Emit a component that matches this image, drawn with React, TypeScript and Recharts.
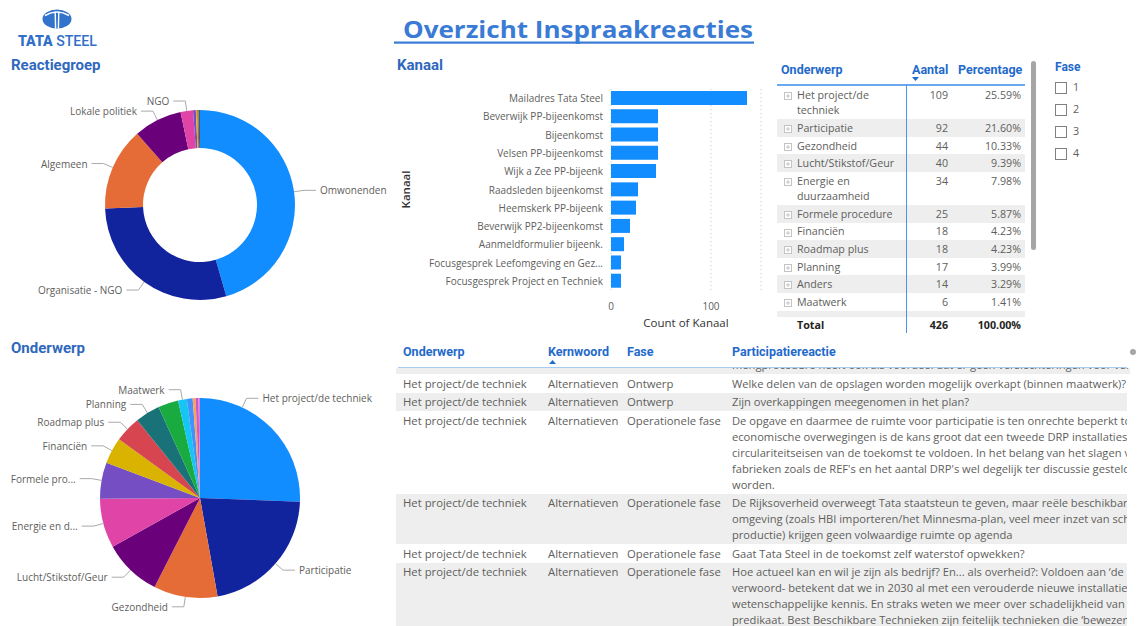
import React from 'react';
import { PieChart, Pie, Cell, BarChart, Bar, XAxis, YAxis, CartesianGrid } from 'recharts';

// ---------- DATA ----------
const reactiegroepNames = ['Omwonenden', 'Organisatie - NGO', 'Algemeen', 'Lokale politiek', 'NGO', 'Overig 1', 'Overig 2', 'Overig 3', 'Overig 4'];
const reactiegroepValues = [194, 123, 60, 35, 9, 2, 1, 1, 1];
const reactiegroepLabels = ['Omwonenden', 'Organisatie - NGO', 'Algemeen', 'Lokale politiek', 'NGO', '', '', '', ''];

const kanaalNames = [
  'Mailadres Tata Steel',
  'Beverwijk PP-bijeenkomst',
  'Bijeenkomst',
  'Velsen PP-bijeenkomst',
  'Wijk a Zee PP-bijeenk',
  'Raadsleden bijeenkomst',
  'Heemskerk PP-bijeenk',
  'Beverwijk PP2-bijeenkomst',
  'Aanmeldformulier bijeenk.',
  'Focusgesprek Leefomgeving en Gezondheid',
  'Focusgesprek Project en Techniek',
];
const kanaalValues = [136, 47, 47, 47, 45, 27, 25, 19, 13, 10, 10];
const kanaalTicks = [0, 100];

const onderwerpNames = [
  'Het project/de techniek', 'Participatie', 'Gezondheid', 'Lucht/Stikstof/Geur', 'Energie en duurzaamheid',
  'Formele procedure', 'Financiën', 'Roadmap plus', 'Planning', 'Anders', 'Maatwerk',
  'Overig 1', 'Overig 2', 'Overig 3', 'Overig 4',
];
const onderwerpValues = [109, 92, 44, 40, 34, 25, 18, 18, 17, 14, 6, 4, 2, 2, 1];
const onderwerpPieLabels = [
  'Het project/de techniek', 'Participatie', 'Gezondheid', 'Lucht/Stikstof/Geur', 'Energie en d...',
  'Formele pro...', 'Financiën', 'Roadmap plus', 'Planning', '', 'Maatwerk', '', '', '', '',
];
const visibleTableRows = 11;

const faseOptions = ['1', '2', '3', '4'];

const reactieOnderwerp = ['', 'Het project/de techniek', 'Het project/de techniek', 'Het project/de techniek', 'Het project/de techniek', 'Het project/de techniek', 'Het project/de techniek'];
const reactieKernwoord = ['', 'Alternatieven', 'Alternatieven', 'Alternatieven', 'Alternatieven', 'Alternatieven', 'Alternatieven'];
const reactieFase = ['', 'Ontwerp', 'Ontwerp', 'Operationele fase', 'Operationele fase', 'Operationele fase', 'Operationele fase'];
const reactieTekst = [
  ['mengprocedure heeft ook als voordeel dat er geen verslechteringen voor vervuiling'],
  ['Welke delen van de opslagen worden mogelijk overkapt (binnen maatwerk)?'],
  ['Zijn overkappingen meegenomen in het plan?'],
  [
    'De opgave en daarmee de ruimte voor participatie is ten onrechte beperkt tot',
    'economische overwegingen is de kans groot dat een tweede DRP installaties',
    'circulariteitseisen van de toekomst te voldoen. In het belang van het slagen van',
    "fabrieken zoals de REF's en het aantal DRP's wel degelijk ter discussie gesteld",
    'worden.',
  ],
  [
    'De Rijksoverheid overweegt Tata staatsteun te geven, maar reële beschikbare',
    'omgeving (zoals HBI importeren/het Minnesma-plan, veel meer inzet van sch',
    'productie) krijgen geen volwaardige ruimte op agenda',
  ],
  ['Gaat Tata Steel in de toekomst zelf waterstof opwekken?'],
  [
    'Hoe actueel kan en wil je zijn als bedrijf? En... als overheid?: Voldoen aan ‘de',
    'verwoord- betekent dat we in 2030 al met een verouderde nieuwe installatie',
    'wetenschappelijke kennis. En straks weten we meer over schadelijkheid van s',
    'predikaat. Best Beschikbare Technieken zijn feitelijk technieken die ‘bewezen’',
  ],
];

// ---------- STYLE ----------
const FONT = "'Open Sans', 'Segoe UI', sans-serif";
const HFONT = "Roboto, 'Open Sans', sans-serif";
const TEXT = '#605E5C';
const TITLE_BLUE = '#2F68BD';
const HEAD_BLUE = '#1F6ACB';
const GRAY_ROW = '#EEEEEE';
const PALETTE = ['#118DFF', '#12239E', '#E66C37', '#6B007B', '#E044A7', '#744EC2', '#D9B300', '#D64550', '#197278', '#1AAB40', '#15C6F4', '#4092FF', '#FFA058', '#BE5DC9', '#F472D0'];
const NO_MARGIN = { top: 0, right: 0, bottom: 0, left: 0 };

const reactiegroepData = reactiegroepNames.map((name, i) => ({ name, value: reactiegroepValues[i] }));
const kanaalData = kanaalNames.map((name, i) => ({ name, value: kanaalValues[i] }));
const onderwerpData = onderwerpNames.map((name, i) => ({ name, value: onderwerpValues[i] }));
const onderwerpTotal = onderwerpValues.reduce((a, b) => a + b, 0);

let ctx: CanvasRenderingContext2D | null = null;
function textWidth(s: string, size: number) {
  if (!ctx && typeof document !== 'undefined') ctx = document.createElement('canvas').getContext('2d');
  if (!ctx) return s.length * size * 0.55;
  ctx.font = `${size}px 'Open Sans'`;
  return ctx.measureText(s).width;
}

function makePieLabel(labels: string[], rightBound: number) {
  return (props: any) => {
    const { cx, cy, outerRadius, midAngle, startAngle, endAngle, index } = props;
    const text = labels[index];
    if (!text) return null;
    const RAD = Math.PI / 180;
    const R1 = outerRadius + 10;
    const w = textWidth(text, 10);
    let ang = midAngle;
    if (Math.cos(ang * RAD) >= 0) {
      const endX = cx + R1 * Math.cos(ang * RAD) + 16 + w;
      const needed = rightBound - w - 16 - cx;
      if (endX > rightBound && needed > 0) {
        const a = Math.acos(Math.min(1, needed / R1)) / RAD;
        ang = midAngle >= 0 ? a : -a;
        const lo = Math.min(startAngle, endAngle), hi = Math.max(startAngle, endAngle);
        ang = Math.max(lo, Math.min(hi, ang));
      }
    }
    const c = Math.cos(-ang * RAD), s = Math.sin(-ang * RAD);
    const x0 = cx + outerRadius * c, y0 = cy + outerRadius * s;
    const x1 = cx + R1 * c, y1 = cy + R1 * s;
    const right = c >= 0;
    const x2 = x1 + (right ? 12 : -12);
    return (
      <g key={`lbl-${index}`}>
        <polyline points={`${x0},${y0} ${x1},${y1} ${x2},${y1}`} fill="none" stroke="#AAAAAA" strokeWidth={1} />
        <text x={x2 + (right ? 4 : -4)} y={y1} textAnchor={right ? 'start' : 'end'} dominantBaseline="central"
          fontFamily={FONT} fontSize={10} fill={TEXT}>{text}</text>
      </g>
    );
  };
}

const truncateKanaal = (v: string) => (v.length > 34 ? v.slice(0, 32) + '...' : v);

const KanaalTick = (p: any) => (
  <text x={p.x} y={p.y} textAnchor="end" dominantBaseline="central" fontFamily={FONT} fontSize={10} fill={TEXT}>
    {truncateKanaal(String(p.payload && p.payload.value))}
  </text>
);

const Title = ({ x, y, children }: any) => (
  <div style={{ position: 'absolute', left: x, top: y, height: 18, lineHeight: '18px', fontFamily: HFONT, fontWeight: 700, fontSize: 15, color: TITLE_BLUE, whiteSpace: 'nowrap' }}>{children}</div>
);

const ExpandIcon = () => (
  <svg width={8} height={8} style={{ position: 'absolute', left: 7, top: 6 }}>
    <rect x={0.5} y={0.5} width={7} height={7} fill="#fff" stroke="#C4C4C4" />
    <line x1={2} y1={4} x2={6} y2={4} stroke="#C4C4C4" />
    <line x1={4} y1={2} x2={4} y2={6} stroke="#C4C4C4" />
  </svg>
);

export default function App() {
  const tableRows = onderwerpNames.slice(0, visibleTableRows);
  return (
    <div style={{ position: 'absolute', left: 0, top: 0, width: 1138, height: 626, background: '#fff', overflow: 'hidden', fontFamily: FONT }}>
      {/* Logo */}
      <svg width={120} height={52} style={{ position: 'absolute', left: 0, top: 0 }}>
        <ellipse cx={57} cy={19} rx={14.5} ry={9.5} fill="#3273CC" />
        <path d="M45 15.5 Q57 8.5 69 15.5" stroke="#fff" strokeWidth={1.6} fill="none" />
        <path d="M55.2 11.5 L55.6 28.5 M58.8 11.5 L58.4 28.5" stroke="#fff" strokeWidth={1.4} fill="none" />
        <text x={18} y={45.5} fontFamily={HFONT} fontSize={14.5} fill="#3070C8" textLength={79} lengthAdjust="spacingAndGlyphs">
          <tspan fontWeight={900}>TATA </tspan><tspan fontWeight={500}>STEEL</tspan>
        </text>
      </svg>

      {/* Main title */}
      <svg width={380} height={50} style={{ position: 'absolute', left: 390, top: 0 }}>
        <text x={13} y={37.7} fontFamily={FONT} fontWeight={700} fontSize={24} fill="#3A7BD5" textLength={350} lengthAdjust="spacingAndGlyphs">Overzicht Inspraakreacties</text>
        <rect x={4} y={41.5} width={360} height={2.2} fill="#3A7BD5" />
      </svg>

      <Title x={11} y={56}>Reactiegroep</Title>
      <Title x={397} y={56}>Kanaal</Title>
      <Title x={11} y={339}>Onderwerp</Title>

      {/* Reactiegroep donut */}
      <div style={{ position: 'absolute', left: 0, top: 80 }}>
        <PieChart width={395} height={250} margin={NO_MARGIN}>
          <Pie data={reactiegroepData} dataKey="value" nameKey="name" cx={200} cy={125} innerRadius={57} outerRadius={95}
            startAngle={90} endAngle={-270} stroke="none" isAnimationActive={false}
            label={makePieLabel(reactiegroepLabels, 392)} labelLine={false}>
            {reactiegroepData.map((d, i) => <Cell key={d.name} fill={PALETTE[i % PALETTE.length]} />)}
          </Pie>
        </PieChart>
      </div>

      {/* Onderwerp pie */}
      <div style={{ position: 'absolute', left: 0, top: 370 }}>
        <PieChart width={395} height={256} margin={NO_MARGIN}>
          <Pie data={onderwerpData} dataKey="value" nameKey="name" cx={200} cy={128} innerRadius={0} outerRadius={100}
            startAngle={90} endAngle={-270} stroke="none" isAnimationActive={false}
            label={makePieLabel(onderwerpPieLabels, 372)} labelLine={false}>
            {onderwerpData.map((d, i) => <Cell key={d.name} fill={PALETTE[i % PALETTE.length]} />)}
          </Pie>
        </PieChart>
      </div>

      {/* Kanaal bar chart */}
      <div style={{ position: 'absolute', left: 397, top: 50 }}>
        <BarChart layout="vertical" width={380} height={290} data={kanaalData} margin={{ top: 39, right: 16, bottom: 10, left: 0 }}>
          <CartesianGrid horizontal={false} stroke="#C8C6C4" strokeDasharray="1 3" />
          <XAxis type="number" domain={[0, 150]} ticks={kanaalTicks} axisLine={false} tickLine={false} height={40} tickMargin={7}
            tick={{ fontSize: 10, fill: TEXT, fontFamily: FONT }}
            label={{ value: 'Count of Kanaal', position: 'insideBottom', offset: 3, fill: '#333333', fontSize: 11.5, fontFamily: FONT }} />
          <YAxis type="category" dataKey="name" width={214} axisLine={false} tickLine={false} interval={0}
            tick={KanaalTick}
            label={{
              position: 'insideLeft',
              content: (p: any) => {
                const vb = p && p.viewBox ? p.viewBox : { x: 0, y: 39, width: 214, height: 201 };
                const x = vb.x + 8; const y = vb.y + vb.height / 2;
                return <text x={x} y={y} transform={`rotate(-90 ${x} ${y})`} textAnchor="middle" dominantBaseline="central" fontFamily={FONT} fontSize={11.5} fontWeight={600} fill="#333333">Kanaal</text>;
              },
            }} />
          <Bar dataKey="value" fill="#118DFF" barSize={14} isAnimationActive={false} />
        </BarChart>
      </div>

      {/* Onderwerp table (top right) */}
      <div style={{ position: 'absolute', left: 781, top: 62, height: 16, lineHeight: '16px', fontFamily: HFONT, fontWeight: 700, fontSize: 12.5, color: HEAD_BLUE }}>Onderwerp</div>
      <div style={{ position: 'absolute', left: 912, top: 62, height: 16, lineHeight: '16px', fontFamily: HFONT, fontWeight: 700, fontSize: 12.5, color: HEAD_BLUE }}>Aantal</div>
      <div style={{ position: 'absolute', left: 958, top: 62, height: 16, lineHeight: '16px', fontFamily: HFONT, fontWeight: 700, fontSize: 12.5, color: HEAD_BLUE }}>Percentage</div>
      <svg width={8} height={5} style={{ position: 'absolute', left: 912, top: 77 }}><path d="M0 0 L7 0 L3.5 4 Z" fill={HEAD_BLUE} /></svg>
      <div style={{ position: 'absolute', left: 777, top: 84, width: 248, height: 2, background: '#6AA8EE' }} />
      <div style={{ position: 'absolute', left: 777, top: 86, width: 248, height: 231, overflow: 'hidden' }}>
        {tableRows.map((name, i) => (
          <div key={name} style={{ position: 'relative', display: 'flex', background: i % 2 === 1 ? GRAY_ROW : 'transparent', padding: '1.8px 0 0.2px', lineHeight: '15.6px', fontSize: 10.7, color: TEXT }}>
            <div style={{ width: 20, flex: 'none' }}><ExpandIcon /></div>
            <div style={{ width: 107, flex: 'none', paddingRight: 2 }}>{name}</div>
            <div style={{ width: 42, flex: 'none', textAlign: 'right' }}>{onderwerpValues[i]}</div>
            <div style={{ width: 73, flex: 'none', textAlign: 'right' }}>{((onderwerpValues[i] / onderwerpTotal) * 100).toFixed(2)}%</div>
          </div>
        ))}
        <div style={{ height: 20, background: tableRows.length % 2 === 1 ? GRAY_ROW : 'transparent' }} />
      </div>
      <div style={{ position: 'absolute', left: 777, top: 317, width: 248, height: 17, display: 'flex', lineHeight: '17px', fontSize: 10.7, fontWeight: 700, color: '#252423' }}>
        <div style={{ width: 20 }} />
        <div style={{ width: 109 }}>Total</div>
        <div style={{ width: 42, textAlign: 'right' }}>{onderwerpTotal}</div>
        <div style={{ width: 73, textAlign: 'right' }}>{(100).toFixed(2)}%</div>
      </div>
      <div style={{ position: 'absolute', left: 906, top: 85, width: 1, height: 248, background: '#4A94E6' }} />
      <div style={{ position: 'absolute', left: 1031, top: 61, width: 5, height: 189, background: '#A6A6A6', borderRadius: 3 }} />

      {/* Fase slicer */}
      <div style={{ position: 'absolute', left: 1055, top: 60, height: 14, lineHeight: '14px', fontFamily: HFONT, fontWeight: 700, fontSize: 12, color: HEAD_BLUE }}>Fase</div>
      {faseOptions.map((f, i) => (
        <div key={f}>
          <div style={{ position: 'absolute', left: 1055, top: 82 + i * 22, width: 10, height: 10, border: '1px solid #808080', background: '#fff' }} />
          <div style={{ position: 'absolute', left: 1073, top: 80 + i * 22, height: 15, lineHeight: '15px', fontSize: 10.7, color: TEXT }}>{f}</div>
        </div>
      ))}

      {/* Reacties table (bottom) */}
      <div style={{ position: 'absolute', left: 396, top: 340, width: 734, height: 286, overflow: 'hidden' }}>
        {[['Onderwerp', 7], ['Kernwoord', 152], ['Fase', 231], ['Participatiereactie', 336]].map(([t, x]) => (
          <div key={t as string} style={{ position: 'absolute', left: x as number, top: 4, height: 16, lineHeight: '16px', fontFamily: HFONT, fontWeight: 700, fontSize: 12.5, color: HEAD_BLUE }}>{t}</div>
        ))}
        <svg width={8} height={5} style={{ position: 'absolute', left: 153, top: 20 }}><path d="M0 4 L7 4 L3.5 0 Z" fill={HEAD_BLUE} /></svg>
        <div style={{ position: 'absolute', left: 2, top: 27, width: 729, height: 2, background: '#A8CBF2' }} />
        <div style={{ position: 'absolute', left: 0, top: 28, width: 734, height: 6, overflow: 'hidden', background: GRAY_ROW }}>
          <div style={{ position: 'absolute', left: 336, top: -11, whiteSpace: 'nowrap', lineHeight: '16px', fontSize: 11.15, color: TEXT }}>{reactieTekst[0][0]}</div>
        </div>
        <div style={{ position: 'absolute', left: 0, top: 34, width: 734 }}>
          {reactieTekst.slice(1).map((lines, k) => {
            const i = k + 1;
            return (
              <div key={i} style={{ position: 'relative', display: 'flex', background: k % 2 === 1 ? GRAY_ROW : 'transparent', padding: '1.5px 0 1px', lineHeight: '16px', fontSize: 11.3, color: TEXT, width: 731 }}>
                <div style={{ width: 152, flex: 'none', paddingLeft: 7, boxSizing: 'border-box', whiteSpace: 'nowrap' }}>{reactieOnderwerp[i]}</div>
                <div style={{ width: 79, flex: 'none', whiteSpace: 'nowrap' }}>{reactieKernwoord[i]}</div>
                <div style={{ width: 105, flex: 'none', whiteSpace: 'nowrap' }}>{reactieFase[i]}</div>
                <div style={{ flex: 1, overflow: 'hidden', fontSize: 11.15 }}>
                  {lines.map((l, j) => <div key={j} style={{ whiteSpace: 'nowrap' }}>{l}</div>)}
                </div>
              </div>
            );
          })}
        </div>
      </div>
      <div style={{ position: 'absolute', left: 1130, top: 349, width: 6, height: 6, borderRadius: 3, background: '#A6A6A6' }} />
    </div>
  );
}
